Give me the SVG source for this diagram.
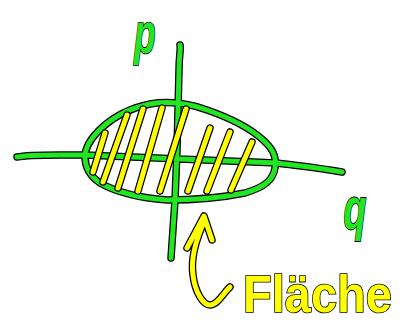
<svg xmlns="http://www.w3.org/2000/svg" width="409" height="324" viewBox="0 0 409 324">
<defs>
<style>
.o{fill:none;stroke:#000;stroke-width:7.5;stroke-linecap:round;stroke-linejoin:round}
.g{fill:none;stroke:#22e622;stroke-width:5;stroke-linecap:round;stroke-linejoin:round}
.y{fill:none;stroke:#ffff00;stroke-width:5;stroke-linecap:round;stroke-linejoin:round}
.t{font-family:"Liberation Sans",Arial,sans-serif;font-weight:bold;stroke:#000;stroke-width:1.5;paint-order:stroke}
</style>
<path id="axes" d="M180,45 C181,50 179,55 179,70 L177,150 L175,200 L171,258 M17,157 C30,154 60,155 85,155 L180,159 L277,163 C300,166 320,168 342,172"/>
<path id="shape" d="M85,157 C85,140 110,112 150,104 C168,101 185,102 207,110 C230,118 250,128 263,140 C272,148 277,156 275,168 C273,180 265,187 245,193 C220,198 195,200 167,200 C140,198 118,193 100,183 C90,176 85,168 85,157 Z"/>
<path id="hatch" d="M105,133 L93,172 M127,115 L103,182 M143,109 L118,188 M162,108 L138,191 M186,109 L160,191 M210,128 L188,191 M230,132 L207,191 M252,142 L231,190"/>
<path id="arrow" d="M187,248 L204,216 L212,240 M205,220 C198,235 190,255 193,275 C195,292 203,305 210,305 C218,305 224,292 230,287"/>
</defs>
<g id="diagram">
<use href="#axes" class="o"/>
<use href="#shape" class="o"/>
<use href="#axes" class="g"/>
<use href="#shape" class="g"/>
<use href="#hatch" class="o"/>
<use href="#hatch" class="y"/>
<use href="#arrow" class="o"/>
<use href="#arrow" class="y"/>
</g>
<g id="label-p"><text class="t" transform="translate(145,53) scale(0.7,1.15)" text-anchor="middle" font-size="50" fill="#22e622" font-style="italic">p</text></g>
<g id="label-q"><text class="t" transform="translate(355,229) scale(0.75,1.2)" text-anchor="middle" font-size="50" fill="#22e622" font-style="italic">q</text></g>
<g id="label-flaeche"><text class="t" transform="translate(243,312) scale(1,1.1)" font-size="47" fill="#ffff00">Fläche</text></g>
</svg>
